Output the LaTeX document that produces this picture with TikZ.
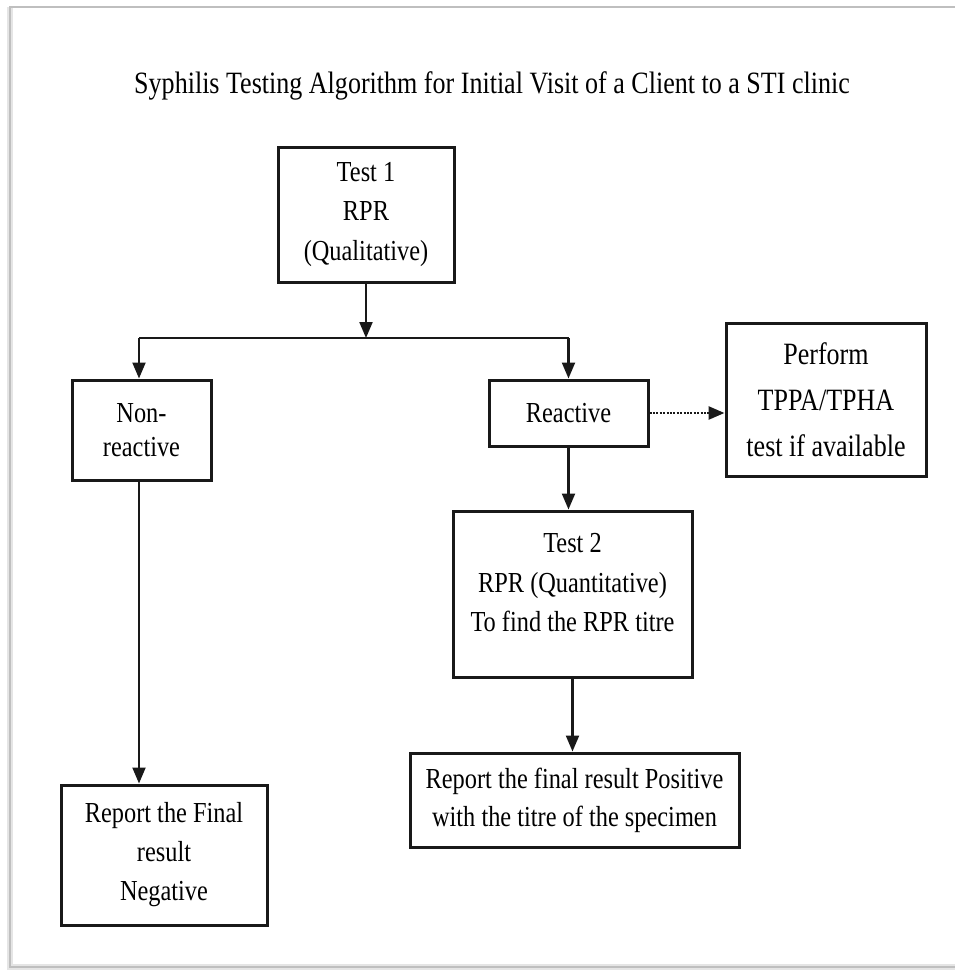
\documentclass[tikz,border=0pt]{standalone}
\usepackage{fontspec}
\setmainfont{Liberation Serif}[FakeStretch=0.84]
\usetikzlibrary{arrows.meta}
\begin{document}
\begin{tikzpicture}[x=1pt,y=-1pt,
  box/.style={draw=black!90, line width=3pt, rectangle, align=center, inner sep=0pt,
    font=\fontsize{29}{39.5}\selectfont},
  txt/.style={align=center, inner sep=0pt, font=\fontsize{29}{39.5}\selectfont},
  conn/.style={draw=black!90, line width=2.2pt, -{Triangle[length=16pt,width=13pt]}},
  plain/.style={draw=black!90, line width=2.2pt},
  frameline/.style={draw=black!25, line width=2.5pt}
]
\useasboundingbox (0,0) rectangle (955,974);
% outer frame
\draw[draw=black!10, line width=6pt] (10,7) -- (10,967) -- (980,967);
\draw[frameline] (980,7) -- (10,7) -- (10,967) -- (980,967);

% title
\node[txt, font=\fontsize{31}{34}\selectfont] (title) at (492,86)
  {Syphilis Testing Algorithm for Initial Visit of a Client to a STI clinic};

% boxes
\node[box, minimum width=176pt, minimum height=135pt] (t1) at (366,214.5)
  {Test 1\\RPR\\(Qualitative)};
\node[box, minimum width=139pt, minimum height=100pt, font=\fontsize{29}{34}\selectfont] (nr) at (141.5,430)
  {Non-\\reactive};
\node[box, minimum width=159pt, minimum height=66pt] (re) at (568.5,413)
  {Reactive};
\node[box, minimum width=200pt, minimum height=153pt, font=\fontsize{31}{46}\selectfont] (pf) at (826,399.5)
  {Perform\\TPPA/TPHA\\test if available};
\node[box, minimum width=239pt, minimum height=166pt] (t2) at (572.5,594) {};
\node[txt] (t2txt) at (572.5,583)
  {Test 2\\RPR (Quantitative)\\To find the RPR titre};
\node[box, minimum width=329pt, minimum height=94pt, font=\fontsize{29}{38}\selectfont] (rp) at (574.5,800)
  {Report the final result Positive\\with the titre of the specimen};
\node[box, minimum width=206pt, minimum height=140pt, font=\fontsize{29}{39}\selectfont] (rf) at (164,855)
  {Report the Final\\result\\Negative};

% junction points
\coordinate (jn) at (139,338);
\coordinate (jr) at (568.5,338);

% connectors
\draw[conn] (t1.south) -- (t1.south |- jn);
\draw[plain] (jn) -- (jr);
\draw[conn] (jn) -- (jn |- nr.north);
\draw[conn] (jr) -- (re.north);
\draw[conn, line width=2.6pt, dash pattern=on 2pt off 1.4pt] (re.east) -- (re.east -| pf.west);
\draw[conn] (re.south) -- (re.south |- t2.north);
\draw[conn] (t2.south) -- (t2.south |- rp.north);
\draw[conn] (nr.south -| jn) -- (rf.north -| jn);
\end{tikzpicture}
\end{document}
